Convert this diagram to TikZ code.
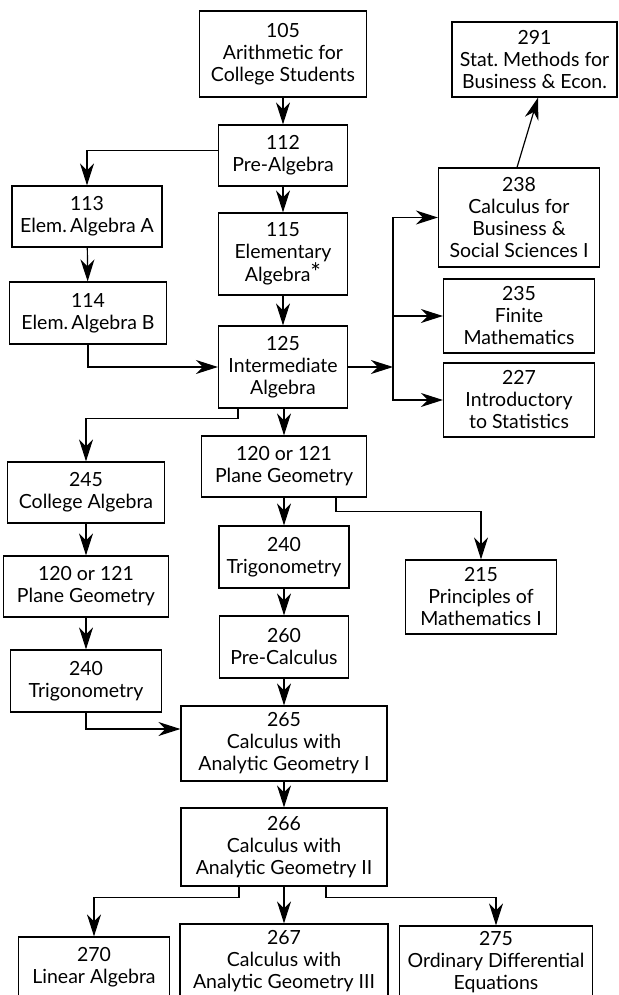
\documentclass[tikz,border=0pt]{standalone}
\usepackage{fontspec}
\setmainfont{Lato}
\frenchspacing
\usetikzlibrary{arrows.meta,positioning,calc}
\tikzset{
  course/.style={draw=black,line width=1.2pt,fill=white,align=center,inner sep=0pt,
    font=\fontsize{19.5}{22}\selectfont},
  flow/.style={-{Stealth[length=22pt,width=14pt,inset=7pt]},line width=1.2pt,draw=black}
}

\begin{document}
\begin{tikzpicture}[x=1pt,y=-1pt]
  \useasboundingbox (0,0) rectangle (618,995);
  % centre column
  \node[course,minimum width=167pt,minimum height=86pt] (c105) at (283,54) {105\\Arithmetic for\\College Students};
  \node[course,minimum width=129pt,minimum height=61pt] (c112) at (283,155.5) {112\\Pre-Algebra};
  \node[course,minimum width=129pt,minimum height=82pt] (c115) at (283,254) {115\\Elementary\\Algebra{\fontsize{25}{22}\selectfont*}};
  \node[course,minimum width=129pt,minimum height=82pt] (c125) at (283,367) {125\\Intermediate\\Algebra};
  \node[course,minimum width=165pt,minimum height=61pt] (c120a) at (284,466.5) {120 or 121\\Plane Geometry};
  \node[course,minimum width=130pt,minimum height=62pt] (c240a) at (284,557) {240\\Trigonometry};
  \node[course,minimum width=129pt,minimum height=62pt] (c260) at (284,647) {260\\Pre-Calculus};
  \node[course,minimum width=206pt,minimum height=75pt] (c265) at (284,743.5) {265\\Calculus with\\Analytic Geometry I};
  \node[course,minimum width=206pt,minimum height=78pt] (c266) at (284,847) {266\\Calculus with\\Analytic Geometry II};
  \node[course,minimum width=208pt,minimum height=74pt] (c267) at (284,961) {267\\Calculus with\\Analytic Geometry III};
  % left column
  \node[course,minimum width=150pt,minimum height=61pt] (c113) at (87,216.5) {113\\Elem.\,Algebra A};
  \node[course,minimum width=157pt,minimum height=62pt] (c114) at (88,313) {114\\Elem.\,Algebra B};
  \node[course,minimum width=157pt,minimum height=61pt] (c245) at (86,492.5) {245\\College Algebra};
  \node[course,minimum width=165pt,minimum height=61pt] (c120b) at (86,586.5) {120 or 121\\Plane Geometry};
  \node[course,minimum width=151pt,minimum height=62pt] (c240b) at (86,681) {240\\Trigonometry};
  \node[course,minimum width=151pt,minimum height=60pt] (c270) at (94,967) {270\\Linear Algebra};
  % right column
  \node[course,minimum width=165pt,minimum height=75pt] (c291) at (534.5,59.5) {291\\Stat. Methods for\\Business \& Econ.};
  \node[course,minimum width=161pt,minimum height=99pt] (c238) at (519,217.5) {238\\Calculus for\\Business \&\\Social Sciences I};
  \node[course,minimum width=151pt,minimum height=74pt] (c235) at (519,316) {235\\Finite\\Mathematics};
  \node[course,minimum width=151pt,minimum height=74pt] (c227) at (519,400) {227\\Introductory\\to Statistics};
  \node[course,minimum width=151pt,minimum height=74pt] (c215) at (481,597) {215\\Principles of\\Mathematics I};
  \node[course,minimum width=193pt,minimum height=72pt] (c275) at (496,962) {275\\Ordinary Differential\\Equations};
  \coordinate (jn) at (393,367);

  \draw[flow] (c105) -- (c112);
  \draw[flow] ([yshift=5pt]c112.west) -| (c113);
  \draw[flow] (c112) -- (c115);
  \draw[flow] (c113) -- (c114);
  \draw[flow] (c114) |- (c125);
  \draw[flow] (c115) -- (c125);
  \draw[flow] (c125) -- (jn);
  \draw[flow] (jn) |- (c238);
  \draw[flow] (jn) |- (c235);
  \draw[flow] (jn) |- (c227);
  \draw[flow] ([xshift=-2pt]c238.north) -- ([xshift=3.5pt]c291.south);
  \draw[flow] ([xshift=-45pt]c125.south) -- ++(0,10) -| (c245);
  \draw[flow] (c125.south -| c120a) -- (c120a);
  \draw[flow] ([xshift=52pt]c120a.south) -- ++(0,14) -| (c215);
  \draw[flow] (c245) -- (c120b);
  \draw[flow] (c120b) -- (c240b);
  \draw[flow] (c240b) |- ([yshift=14.5pt]c265.west);
  \draw[flow] (c120a) -- (c240a);
  \draw[flow] (c240a) -- (c260);
  \draw[flow] (c260) -- (c265);
  \draw[flow] (c265) -- (c266);
  \draw[flow] ([xshift=-45pt]c266.south) -- ++(0,11) -| (c270);
  \draw[flow] (c266) -- (c267);
  \draw[flow] ([xshift=42pt]c266.south) -- ++(0,11) -| (c275);
\end{tikzpicture}
\end{document}
